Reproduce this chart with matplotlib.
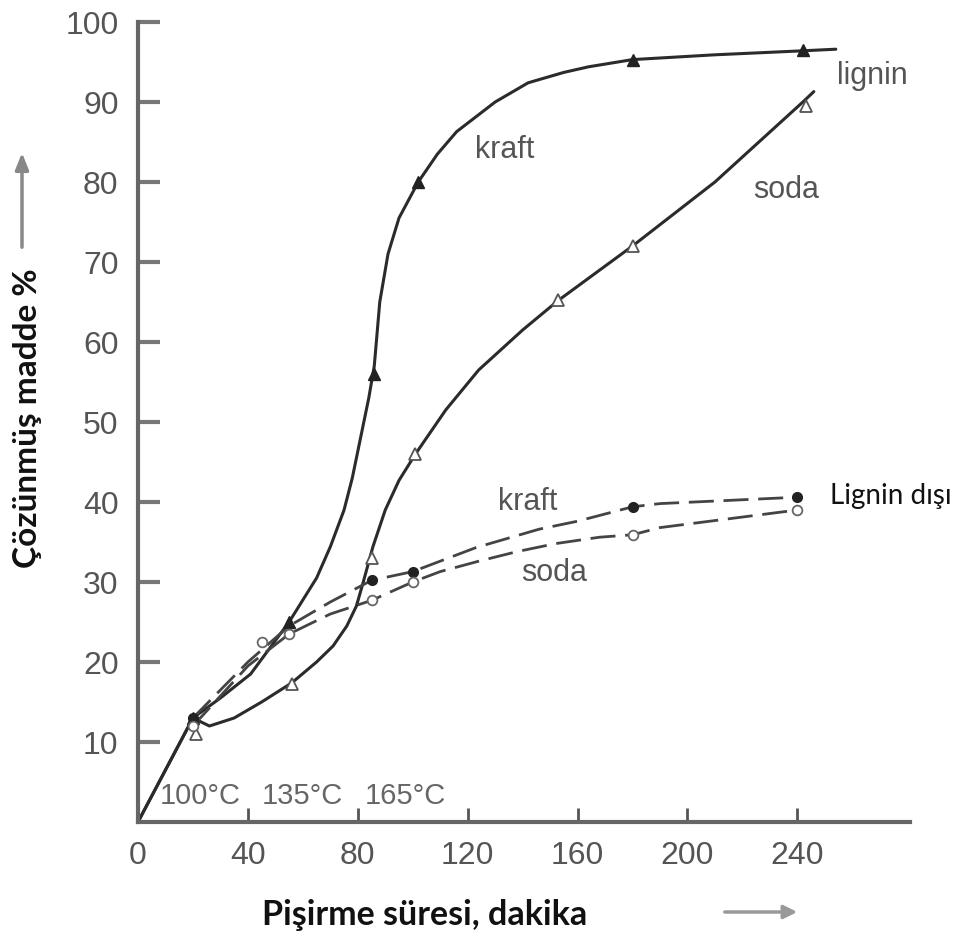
import matplotlib
matplotlib.use("Agg")
import matplotlib.pyplot as plt

# ---- data ----
# solid curves (lignin dissolved)
kraft_lig_x = [0, 10, 20, 30, 41, 55, 65, 70, 75, 78, 81, 84, 86, 88, 91, 95, 102, 109, 116, 130, 142, 155, 164, 180, 210, 242, 254]
kraft_lig_y = [0, 6.5, 13, 15.5, 18.5, 25, 30.5, 34.4, 39, 43, 48, 53, 57, 65, 71, 75.5, 80, 83.5, 86.3, 90, 92.4, 93.7, 94.4, 95.3, 95.9, 96.4, 96.6]
soda_lig_x = [0, 10, 20, 26, 35, 45, 56, 65, 71, 76, 79.5, 82, 85.5, 90, 95, 101, 112, 124, 140, 153, 180, 210, 242, 246]
soda_lig_y = [0, 6.5, 13, 12, 13, 15, 17.4, 20, 22, 24.5, 27, 30, 34.4, 39, 42.7, 46, 51.5, 56.5, 61.5, 65.2, 72, 80, 90, 91.3]
# marker points
kraft_lig_mx = [20, 55, 86, 102, 180, 242]
kraft_lig_my = [13, 25, 56, 80, 95.3, 96.5]
soda_lig_mx = [21, 56, 85, 101, 153, 180, 243]
soda_lig_my = [11, 17.2, 33, 46, 65.3, 72, 89.5]

# dashed curves (non-lignin dissolved)
kraft_non_x = [20, 40, 55, 70, 85, 100, 123, 146, 160, 180, 190, 240]
kraft_non_y = [13, 20, 24.5, 27.5, 30.2, 31.3, 34.3, 36.6, 37.6, 39.4, 39.8, 40.6]
soda_non_x = [20, 40, 55, 70, 85, 100, 110, 124, 138, 152, 168, 180, 190, 240]
soda_non_y = [12, 19.5, 23.5, 26, 27.7, 30, 31.3, 32.6, 33.8, 34.8, 35.6, 35.9, 36.8, 39]
kraft_non_mx = [20, 85, 100, 180, 240]
kraft_non_my = [13, 30.2, 31.3, 39.4, 40.6]
soda_non_mx = [20, 45, 55, 85, 100, 180, 240]
soda_non_my = [12, 22.5, 23.5, 27.7, 30, 35.9, 39]

x_ticks = [0, 40, 80, 120, 160, 200, 240]
y_ticks = [10, 20, 30, 40, 50, 60, 70, 80, 90, 100]
temp_labels = ["100°C", "135°C", "165°C"]
temp_x = [8, 45, 82.5]

W, H = 975, 936
fig = plt.figure(figsize=(W / 100, H / 100), dpi=100)
ax = fig.add_axes([138 / W, 1 - 822 / H, (910 - 138) / W, (822 - 22) / H])
ax.set_xlim(0, 281)
ax.set_ylim(0, 100)

line_col = "#2b2b2b"
ax.plot(kraft_lig_x, kraft_lig_y, color=line_col, lw=2.2, solid_capstyle="round")
ax.plot(soda_lig_x, soda_lig_y, color=line_col, lw=2.2, solid_capstyle="round")
ax.plot(kraft_non_x, kraft_non_y, color="#444444", lw=2.0, linestyle=(0, (9, 3.5)))
ax.plot(soda_non_x, soda_non_y, color="#444444", lw=2.0, linestyle=(0, (9, 3.5)))

ax.plot(kraft_lig_mx, kraft_lig_my, linestyle="none", marker="^", ms=8, color="#222222")
ax.plot(soda_lig_mx, soda_lig_my, linestyle="none", marker="^", ms=8, mfc="white", mec="#555555", mew=1.3)
ax.plot(kraft_non_mx, kraft_non_my, linestyle="none", marker="o", ms=7, color="#222222")
ax.plot(soda_non_mx, soda_non_my, linestyle="none", marker="o", ms=7, mfc="white", mec="#666666", mew=1.3)

# spines and ticks
for s in ["top", "right"]:
    ax.spines[s].set_visible(False)
for s in ["left", "bottom"]:
    ax.spines[s].set_color("#666666")
    ax.spines[s].set_linewidth(3)

tick_font = dict(family="Liberation Sans", size=23, color="#555555")
ax.set_xticks(x_ticks)
ax.set_xticklabels([str(v) for v in x_ticks], **tick_font)
ax.set_yticks(y_ticks)
ax.set_yticklabels([str(v) for v in y_ticks], **tick_font)
ax.tick_params(axis="y", direction="in", length=16, width=3, color="#777777", pad=14)
ax.tick_params(axis="x", direction="in", length=10, width=2, color="#555555", pad=14)

# curve labels
lab = dict(family="Liberation Sans", size=22, color="#555555")
ax.text(133.5, 84, "kraft", ha="center", va="center", **lab)
ax.text(236, 79, "soda", ha="center", va="center", **lab)
ax.text(254.5, 93.2, "lignin", ha="left", va="center", **lab)
ax.text(141.8, 40, "kraft", ha="center", va="center", **lab)
ax.text(151.6, 31.1, "soda", ha="center", va="center", **lab)
ax.text(252, 40.8, "Lignin dışı", ha="left", va="center", family="Lato", size=20,
        color="#111111", clip_on=False)
for t, xx in zip(temp_labels, temp_x):
    ax.text(xx, 3.3, t, ha="left", va="center", family="Liberation Sans", size=21, color="#666666")

# axis titles with arrows
fig.text(262 / W, 1 - 915 / H, "Pişirme süresi, dakika", ha="left", va="center",
         family="Lato", size=24.5, fontweight="bold", color="#111111")
fig.add_artist(matplotlib.patches.FancyArrowPatch(
    (722 / W, 1 - 912 / H), (800 / W, 1 - 912 / H), transform=fig.transFigure,
    arrowstyle="-|>,head_length=8,head_width=4", mutation_scale=1, color="#999999", lw=2.5))
fig.text(28 / W, 1 - 418 / H, "Çözünmüş madde %", ha="center", va="center", rotation=90,
         family="Lato", size=24, fontweight="bold", color="#111111")
fig.add_artist(matplotlib.patches.FancyArrowPatch(
    (22 / W, 1 - 250 / H), (22 / W, 1 - 150 / H), transform=fig.transFigure,
    arrowstyle="-|>,head_length=10,head_width=4", mutation_scale=1, color="#888888", lw=2.5))

fig.savefig("out.png", dpi=100)
